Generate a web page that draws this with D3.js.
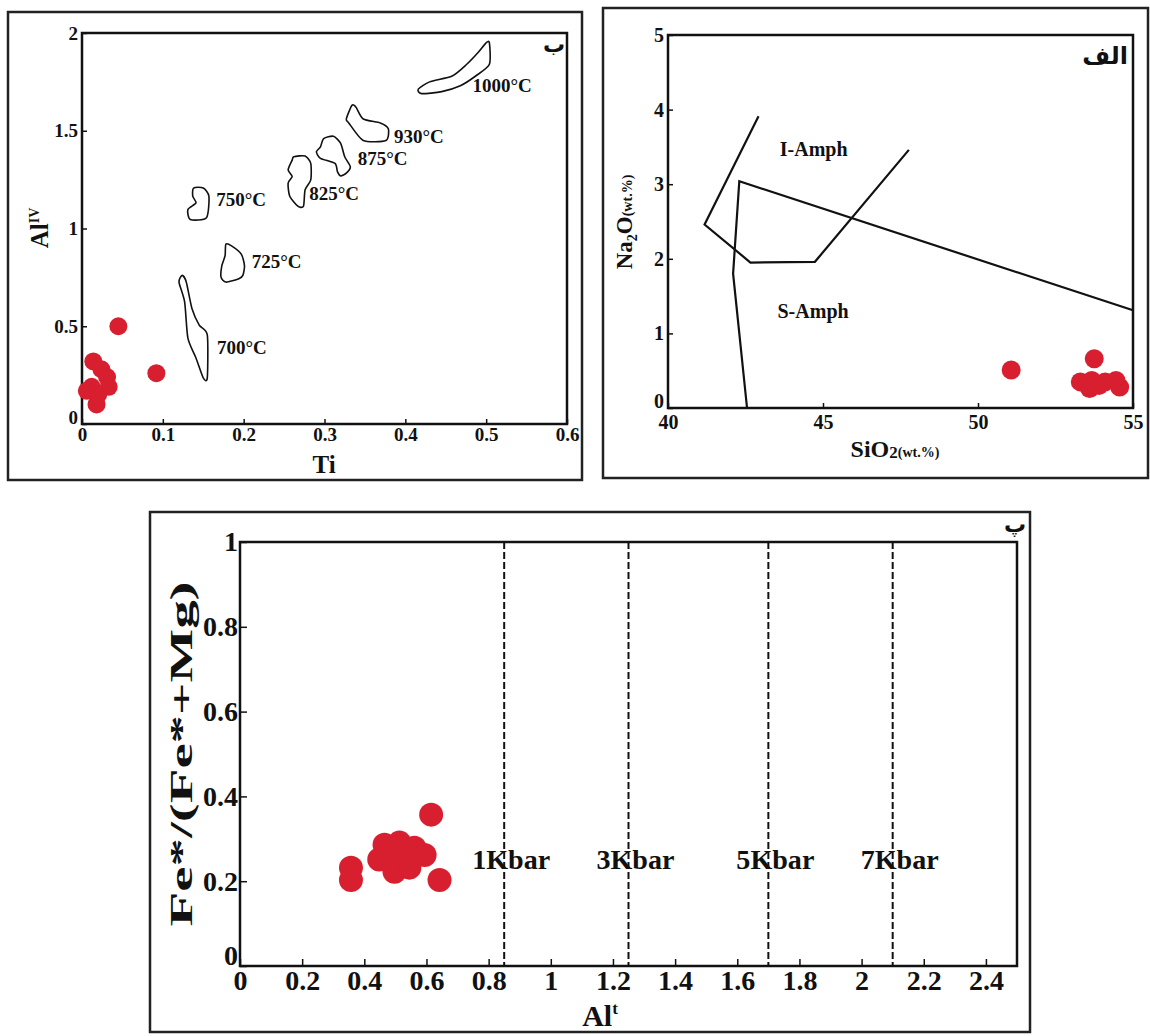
<!DOCTYPE html>
<html><head><meta charset="utf-8">
<script src="https://cdn.jsdelivr.net/npm/d3@7"></script>
<style>
body{margin:0;background:#fff}
text{font-family:"Liberation Serif","Times New Roman","DejaVu Serif",serif;font-weight:bold;fill:#111}
.ar{font-family:"DejaVu Sans","Noto Sans",sans-serif;font-weight:bold}
</style>
</head><body>
<svg id="c" width="1150" height="1036"></svg>
<script>
// ---------- Panel ب : Ti vs Al(IV) ----------
const tiValues   = [0.045, 0.092, 0.014, 0.024, 0.031, 0.033, 0.012, 0.006, 0.018, 0.020];
const alIVValues = [0.50,  0.26,  0.32,  0.28,  0.24,  0.19,  0.19,  0.17,  0.10,  0.15];
const tiTicks = [0, 0.1, 0.2, 0.3, 0.4, 0.5, 0.6];
const alIVTicks = [0, 0.5, 1, 1.5, 2];
const tempLabels = ["1000°C", "930°C", "875°C", "825°C", "750°C", "725°C", "700°C"];
const tempLabelTi = [0.483, 0.386, 0.341, 0.281, 0.166, 0.21, 0.167];
const tempLabelAl = [1.73, 1.47, 1.36, 1.18, 1.15, 0.83, 0.39];
const field1000 = [[0.416,1.713],[0.43,1.75],[0.458,1.78],[0.476,1.84],[0.49,1.9],[0.5,1.95],[0.504,1.95],[0.504,1.84],[0.487,1.78],[0.468,1.73],[0.445,1.70],[0.42,1.69]];
const field930 = [[0.334,1.63],[0.327,1.56],[0.33,1.54],[0.348,1.45],[0.376,1.45],[0.379,1.51],[0.369,1.54],[0.348,1.56],[0.339,1.62]];
const field875 = [[0.299,1.46],[0.295,1.418],[0.29,1.392],[0.295,1.359],[0.313,1.333],[0.316,1.291],[0.32,1.269],[0.327,1.283],[0.332,1.316],[0.325,1.367],[0.32,1.435],[0.311,1.472]];
const field825 = [[0.262,1.367],[0.276,1.371],[0.283,1.333],[0.283,1.249],[0.276,1.198],[0.274,1.114],[0.267,1.114],[0.257,1.165],[0.255,1.232],[0.26,1.266],[0.255,1.30],[0.26,1.35]];
const field750 = [[0.138,1.207],[0.15,1.207],[0.157,1.165],[0.154,1.055],[0.134,1.046],[0.131,1.097],[0.141,1.131],[0.137,1.165]];
const field725 = [[0.178,0.92],[0.185,0.911],[0.197,0.869],[0.201,0.81],[0.199,0.76],[0.194,0.743],[0.178,0.726],[0.172,0.751],[0.173,0.81],[0.177,0.861]];
const field700 = [[0.124,0.76],[0.12,0.726],[0.127,0.624],[0.131,0.439],[0.141,0.338],[0.15,0.236],[0.155,0.236],[0.155,0.456],[0.145,0.506],[0.136,0.591],[0.129,0.726]];
const tempFields = [field1000, field930, field875, field825, field750, field725, field700];

// ---------- Panel الف : SiO2 vs Na2O ----------
const sio2Values = [51.07, 53.75, 53.30, 53.60, 53.90, 54.10, 54.45, 54.57, 53.67];
const na2oValues = [0.51,  0.66,  0.35,  0.26,  0.30,  0.35,  0.37,  0.28,  0.37];
const sio2Ticks = [40, 45, 50, 55];
const na2oTicks = [0, 1, 2, 3, 4, 5];
const iAmphLine = [[42.92,3.91],[41.18,2.46],[42.66,1.95],[44.74,1.96],[47.77,3.46]];
const sAmphLine = [[55,1.31],[42.30,3.04],[42.10,1.80],[42.55,0]];

// ---------- Panel پ : Al(t) vs Fe*/(Fe*+Mg) ----------
const altValues  = [0.357, 0.357, 0.465, 0.513, 0.561, 0.448, 0.497, 0.545, 0.594, 0.497, 0.545, 0.615, 0.642];
const feMgValues = [0.232, 0.203, 0.286, 0.291, 0.279, 0.251, 0.251, 0.255, 0.262, 0.222, 0.232, 0.357, 0.203];
const altTicks = [0, 0.2, 0.4, 0.6, 0.8, 1, 1.2, 1.4, 1.6, 1.8, 2, 2.2, 2.4];
const feMgTicks = [0, 0.2, 0.4, 0.6, 0.8, 1];
const kbarAl = [0.85, 1.25, 1.7, 2.1];
const kbarLabels = ["1Kbar", "3Kbar", "5Kbar", "7Kbar"];

const RED = "#d81f2f";
const svg = d3.select("#c");
const fmt = d => String(d);

function frame(x0, y0, x1, y1) {
  svg.append("rect").attr("x", x0).attr("y", y0).attr("width", x1 - x0).attr("height", y1 - y0)
    .attr("fill", "none").attr("stroke", "#222").attr("stroke-width", 2.5);
}
function axes(x, y, xt, yt, fs, tick, xpad, ypad) {
  const g = svg.append("g");
  const [xa, xb] = x.range(), [ya, yb] = y.range();
  const style = s => { s.select(".domain").remove(); s.selectAll("text").attr("font-size", fs).attr("font-family", null).attr("fill", "#111"); s.selectAll("line").attr("stroke", "#111").attr("stroke-width", 1.5); };
  g.append("g").attr("transform", `translate(0,${ya})`)
    .call(d3.axisBottom(x).tickValues(xt).tickFormat(fmt).tickSize(-tick).tickPadding(xpad)).call(style);
  g.append("g").attr("transform", `translate(${xa},0)`)
    .call(d3.axisLeft(y).tickValues(yt).tickFormat(fmt).tickSize(-tick).tickPadding(ypad)).call(style)
    .selectAll(".tick").filter(d => d === yt[0]).select("text").attr("dy", "-0.05em");
  g.append("rect").attr("x", xa).attr("y", yb).attr("width", xb - xa).attr("height", ya - yb)
    .attr("fill", "none").attr("stroke", "#111").attr("stroke-width", 2.5);
}

// ===== Panel ب =====
frame(8, 12, 582, 480);
{
  const x = d3.scaleLinear().domain([0, 0.6]).range([82, 567]);
  const y = d3.scaleLinear().domain([0, 2]).range([424, 33]);
  const line = d3.line().x(d => x(d[0])).y(d => y(d[1])).curve(d3.curveCardinalClosed.tension(0.3));
  svg.append("g").selectAll("path").data(tempFields).join("path")
    .attr("d", line).attr("fill", "none").attr("stroke", "#111").attr("stroke-width", 1.6);
  svg.append("g").selectAll("text").data(tempLabels).join("text")
    .attr("x", (d, i) => x(tempLabelTi[i])).attr("y", (d, i) => y(tempLabelAl[i]))
    .attr("dy", "0.35em").attr("font-size", 19).text(d => d);
  axes(x, y, tiTicks, alIVTicks, 19, 5, 4, 4);
  svg.append("g").selectAll("circle").data(tiValues).join("circle")
    .attr("cx", d => x(d)).attr("cy", (d, i) => y(alIVValues[i])).attr("r", 9).attr("fill", RED);
  svg.append("text").attr("x", 324).attr("y", 473).attr("text-anchor", "middle").attr("font-size", 25).text("Ti");
  const t = svg.append("text").attr("transform", "translate(48,228) rotate(-90)").attr("text-anchor", "middle").attr("font-size", 25);
  t.append("tspan").text("Al");
  t.append("tspan").attr("dy", -9).attr("font-size", 14).text("IV");
  svg.append("text").attr("class", "ar").attr("x", 565).attr("y", 52).attr("text-anchor", "end").attr("font-size", 22).text("ب");
}

// ===== Panel الف =====
frame(603, 8, 1148, 478);
{
  const x = d3.scaleLinear().domain([40, 55]).range([668, 1133]);
  const y = d3.scaleLinear().domain([0, 5]).range([408, 35]);
  const line = d3.line().x(d => x(d[0])).y(d => y(d[1]));
  svg.append("g").selectAll("path").data([iAmphLine, sAmphLine]).join("path")
    .attr("d", line).attr("fill", "none").attr("stroke", "#111").attr("stroke-width", 2.2);
  svg.append("text").attr("x", x(44.7)).attr("y", y(3.47)).attr("dy", "0.35em").attr("text-anchor", "middle").attr("font-size", 20).text("I-Amph");
  svg.append("text").attr("x", x(44.68)).attr("y", y(1.30)).attr("dy", "0.35em").attr("text-anchor", "middle").attr("font-size", 20).text("S-Amph");
  axes(x, y, sio2Ticks, na2oTicks, 20, 5, 7, 4);
  svg.append("g").selectAll("circle").data(sio2Values).join("circle")
    .attr("cx", d => x(d)).attr("cy", (d, i) => y(na2oValues[i])).attr("r", 9.5).attr("fill", RED);
  const xl = svg.append("text").attr("x", 895).attr("y", 457).attr("text-anchor", "middle").attr("font-size", 24);
  xl.append("tspan").text("SiO");
  xl.append("tspan").attr("font-size", 17).attr("dy", 1).text("2");
  xl.append("tspan").attr("font-size", 14).attr("dy", -1).text("(wt.%)");
  const yl = svg.append("text").attr("transform", "translate(632,222) rotate(-90)").attr("text-anchor", "middle").attr("font-size", 23);
  yl.append("tspan").text("Na");
  yl.append("tspan").attr("font-size", 14).attr("dy", 5).text("2");
  yl.append("tspan").attr("dy", -5).text("O");
  yl.append("tspan").attr("font-size", 14).text("(wt.%)");
  svg.append("text").attr("class", "ar").attr("x", 1128).attr("y", 64).attr("text-anchor", "end").attr("font-size", 24).text("الف");
}

// ===== Panel پ =====
frame(150, 512, 1030, 1032);
{
  const x = d3.scaleLinear().domain([0, 2.5]).range([240, 1017]);
  const y = d3.scaleLinear().domain([0, 1]).range([966, 542]);
  svg.append("g").selectAll("line").data(kbarAl).join("line")
    .attr("x1", d => x(d)).attr("x2", d => x(d)).attr("y1", y(1)).attr("y2", y(0))
    .attr("stroke", "#111").attr("stroke-width", 2).attr("stroke-dasharray", "7,3");
  svg.append("g").selectAll("text").data(kbarLabels).join("text")
    .attr("x", (d, i) => x(kbarAl[i]) - 32).attr("y", y(0.25)).attr("dy", "0.35em")
    .attr("font-size", 27).attr("textLength", 78).attr("lengthAdjust", "spacingAndGlyphs").text(d => d);
  axes(x, y, altTicks, feMgTicks, 28, 7, 4, 2);
  svg.append("g").selectAll("circle").data(altValues).join("circle")
    .attr("cx", d => x(d)).attr("cy", (d, i) => y(feMgValues[i])).attr("r", 12).attr("fill", RED);
  const xl = svg.append("text").attr("x", 600).attr("y", 1026).attr("text-anchor", "middle").attr("font-size", 30);
  xl.append("tspan").text("Al");
  xl.append("tspan").attr("dy", -12).attr("font-size", 17).text("t");
  svg.append("text").attr("transform", "translate(192,754) rotate(-90)").attr("text-anchor", "middle")
    .attr("font-size", 32).attr("textLength", 345).attr("lengthAdjust", "spacingAndGlyphs").text("Fe*/(Fe*+Mg)");
  svg.append("text").attr("class", "ar").attr("x", 1026).attr("y", 532).attr("text-anchor", "end").attr("font-size", 22).text("پ");
}
</script>
</body></html>
